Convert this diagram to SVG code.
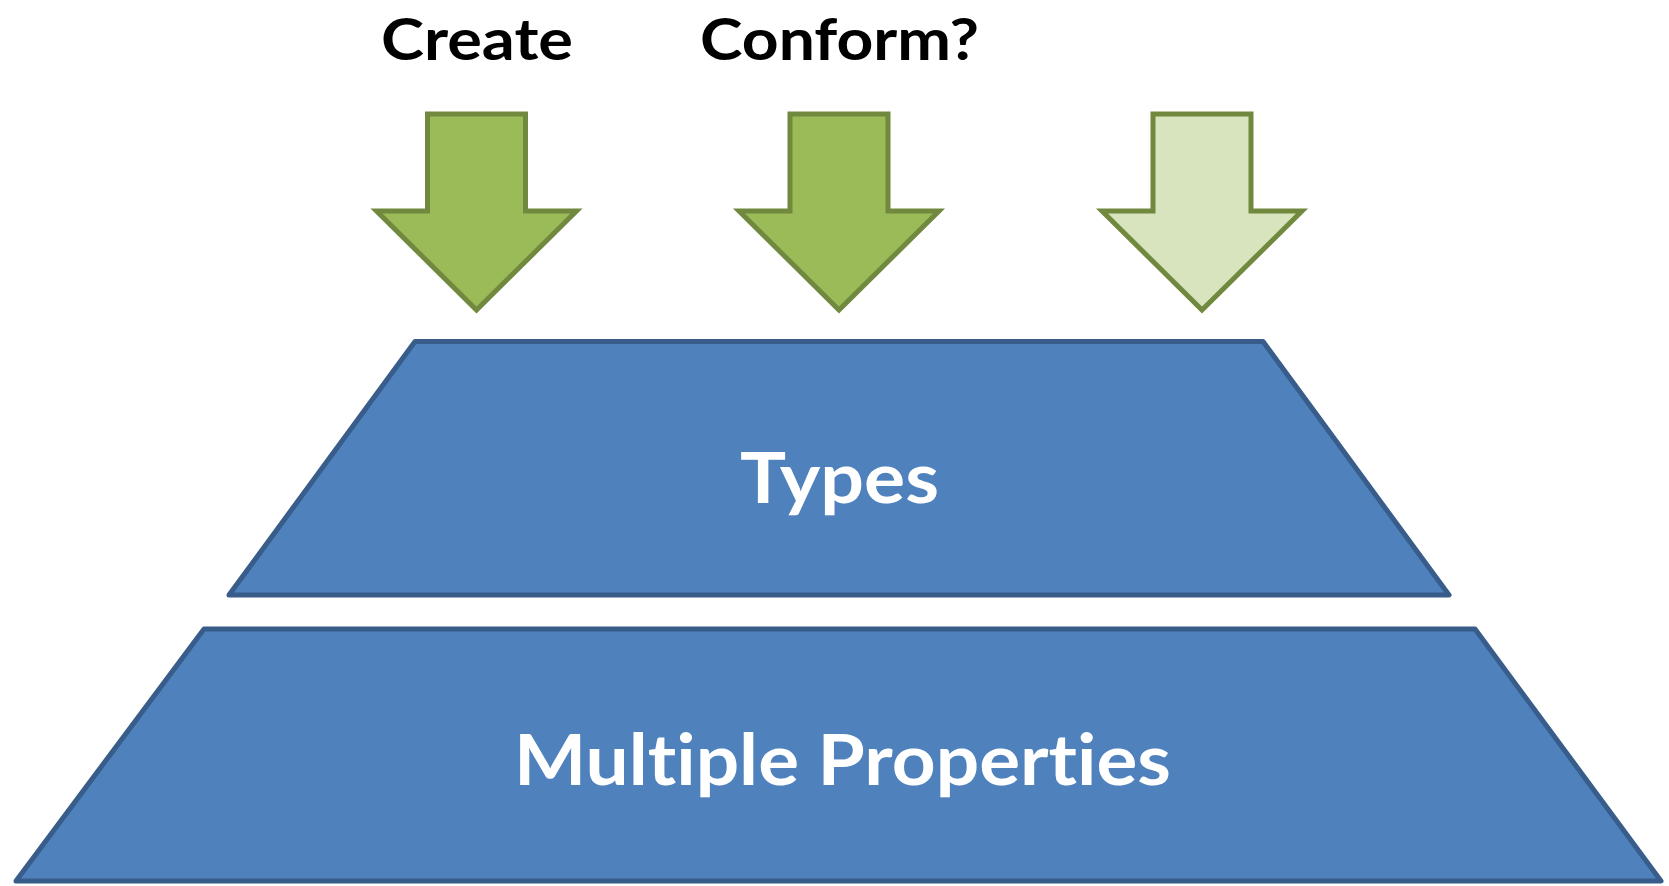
<svg xmlns="http://www.w3.org/2000/svg" width="1669" height="886" viewBox="0 0 1669 886">
<style>
.arrow{fill:#9BBB59;stroke:#71893F;stroke-width:5;stroke-linejoin:miter}
.arrow.light{fill:#D7E4BD}
.trap{fill:#4F81BD;stroke:#385D8A;stroke-width:5;stroke-linejoin:round}
.label{font-family:Lato,"Open Sans","Liberation Sans",sans-serif;font-weight:bold;text-anchor:middle;font-variant-ligatures:none;font-feature-settings:"liga" 0,"clig" 0}
.head{fill:#000000;font-size:58px}
.inner{fill:#FFFFFF;font-size:70px}
</style>
<rect width="1669" height="886" fill="#FFFFFF"/>
<g id="label-create"><text class="label head" x="477" y="60" textLength="192" lengthAdjust="spacingAndGlyphs">Create</text></g>
<g id="label-conform"><text class="label head" x="839.5" y="60" textLength="279" lengthAdjust="spacingAndGlyphs">Conform?</text></g>
<g id="arrows">
<g id="arrow-create"><polygon class="arrow" points="427.5,114 525.5,114 525.5,211 576.5,211 476.5,310 376.5,211 427.5,211"/></g>
<g id="arrow-conform"><polygon class="arrow" points="790,114 888,114 888,211 939,211 839,310 739,211 790,211"/></g>
<g id="arrow-third"><polygon class="arrow light" points="1153,114 1251,114 1251,211 1302,211 1202,310 1102,211 1153,211"/></g>
</g>
<g id="node-types">
<polygon class="trap" points="415,341.5 1263,341.5 1449,595 229,595"/>
<text class="label inner" x="839.5" y="503" textLength="199" lengthAdjust="spacingAndGlyphs">Types</text>
</g>
<g id="node-properties">
<polygon class="trap" points="204,629 1475,629 1661,881 16,881"/>
<text class="label inner" x="842.5" y="785" textLength="657" lengthAdjust="spacingAndGlyphs">Multiple Properties</text>
</g>
</svg>
